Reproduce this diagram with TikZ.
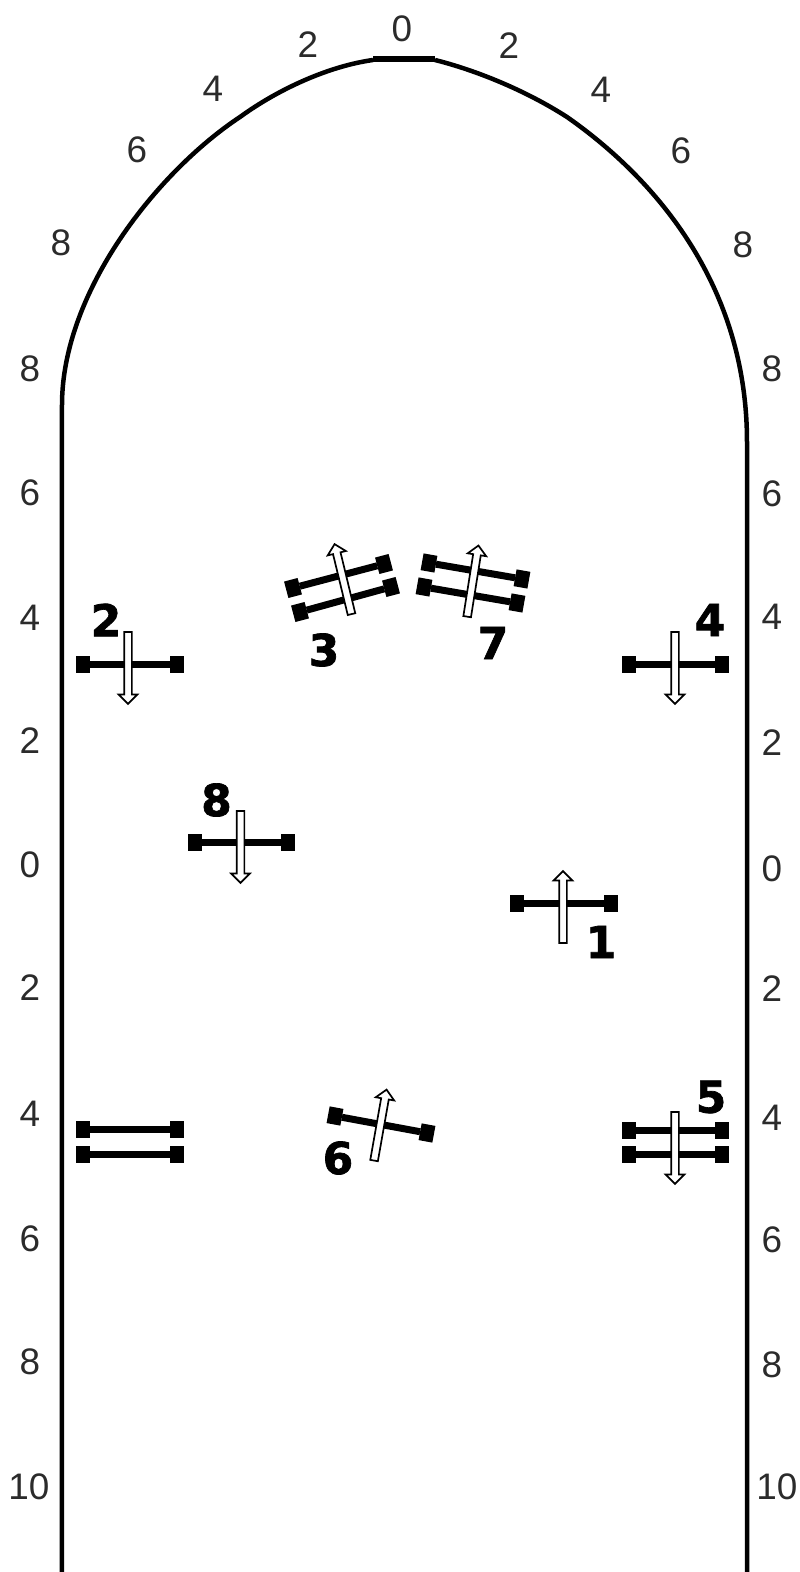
\documentclass[tikz,border=0pt]{standalone}
\usepackage{fontspec}
\setmainfont{Liberation Sans}
\newfontfamily\heavyfont[BoldFeatures={FakeBold=1.6}]{DejaVu Sans}
\usetikzlibrary{shapes.arrows}
\definecolor{ArenaInk}{HTML}{000000}
\definecolor{ScaleInk}{HTML}{2B2B2B}
\begin{document}
\begin{tikzpicture}[
  x=1cm,y=1cm,
  track/.style={draw=ArenaInk,line width=0.45mm},
  rail/.style={draw=ArenaInk,line width=0.7mm},
  post/.style={draw=none,fill=ArenaInk,minimum width=0.14cm,minimum height=0.17cm,
    inner sep=0pt,outer sep=0pt},
  route/.style={single arrow,draw=ArenaInk,fill=white,line width=0.17mm,inner sep=0.03cm,
    minimum width=0.17cm,minimum height=0.72cm,single arrow head extend=0.055cm},
  scalemark/.style={inner sep=0pt,text=ScaleInk,font=\fontsize{10.5}{12}\selectfont},
  jumpno/.style={inner sep=0pt,text=ArenaInk,font=\heavyfont\bfseries\fontsize{12.5}{15}\selectfont}
]
\useasboundingbox (0,0) rectangle (8,15.72);

% Arena wall, closed at the top by a pointed arch.
\draw[track] (0.62,0) -- (0.62,11.67)
  .. controls (0.62,12.80) and (1.57,14.00) .. (2.40,14.55)
  .. controls (2.80,14.84) and (3.30,15.06) .. (3.73,15.12);
\draw[track,line width=0.55mm] (3.73,15.13) -- (4.35,15.13);
\draw[track] (4.35,15.12)
  .. controls (4.75,15.02) and (5.25,14.82) .. (5.67,14.55)
  .. controls (6.40,14.04) and (7.47,13.00) .. (7.47,11.30) -- (7.47,0);

% Distance marks along the long sides.
\node[scalemark] (l8) at (0.30,12.03) {8};
\node[scalemark] (l6) at (0.30,10.79) {6};
\node[scalemark] (l4) at (0.30,9.54) {4};
\node[scalemark] (l2) at (0.30,8.31) {2};
\node[scalemark] (l0) at (0.30,7.07) {0};
\node[scalemark] (l2b) at (0.30,5.84) {2};
\node[scalemark] (l4b) at (0.30,4.58) {4};
\node[scalemark] (l6b) at (0.30,3.33) {6};
\node[scalemark] (l8b) at (0.30,2.10) {8};
\node[scalemark] (l10b) at (0.29,0.85) {10};
\node[scalemark] (r8) at (7.72,12.03) {8};
\node[scalemark] (r6) at (7.72,10.78) {6};
\node[scalemark] (r4) at (7.72,9.55) {4};
\node[scalemark] (r2) at (7.72,8.29) {2};
\node[scalemark] (r0) at (7.72,7.03) {0};
\node[scalemark] (r2b) at (7.72,5.83) {2};
\node[scalemark] (r4b) at (7.72,4.54) {4};
\node[scalemark] (r6b) at (7.72,3.32) {6};
\node[scalemark] (r8b) at (7.72,2.07) {8};
\node[scalemark] (r10b) at (7.77,0.85) {10};

% Distance marks around the arch.
\node[scalemark] (a0) at (4.02,15.43) {0};
\node[scalemark] (al2) at (3.08,15.27) {2};
\node[scalemark] (al4) at (2.13,14.83) {4};
\node[scalemark] (al6) at (1.37,14.22) {6};
\node[scalemark] (al8) at (0.61,13.29) {8};
\node[scalemark] (ar2) at (5.09,15.26) {2};
\node[scalemark] (ar4) at (6.01,14.82) {4};
\node[scalemark] (ar6) at (6.81,14.21) {6};
\node[scalemark] (ar8) at (7.43,13.27) {8};

% Upright fences along the sides.
\node[post] (f2a) at (0.83,9.07) {};
\node[post] (f2b) at (1.765,9.07) {};
\draw[rail] (f2a) -- (f2b);
\node[route,rotate=-90] (p2) at (1.28,9.06) {};
\node[jumpno] (n2) at (1.06,9.52) {2};

\node[post] (f4a) at (6.29,9.07) {};
\node[post] (f4b) at (7.22,9.07) {};
\draw[rail] (f4a) -- (f4b);
\node[route,rotate=-90] (p4) at (6.75,9.06) {};
\node[jumpno] (n4) at (7.10,9.52) {4};

% The two oxers at the top of the arena lean towards each other.
\node[post,rotate=14.8] (f3a) at (2.93,9.84) {};
\node[post,rotate=14.8] (f3b) at (3.84,10.08) {};
\node[post,rotate=14.8] (f3c) at (3.00,9.60) {};
\node[post,rotate=14.8] (f3d) at (3.91,9.85) {};
\draw[rail] (f3a) -- (f3b);
\draw[rail] (f3c) -- (f3d);
\node[route,rotate=103.6] (p3) at (3.435,9.91) {};
\node[jumpno] (n3) at (3.24,9.22) {3};

\node[post,rotate=-10] (f7a) at (4.29,10.09) {};
\node[post,rotate=-10] (f7b) at (5.22,9.93) {};
\node[post,rotate=-10] (f7c) at (4.24,9.85) {};
\node[post,rotate=-10] (f7d) at (5.17,9.69) {};
\draw[rail] (f7a) -- (f7b);
\draw[rail] (f7c) -- (f7d);
\node[route,rotate=81] (p7) at (4.725,9.89) {};
\node[jumpno] (n7) at (4.93,9.29) {7};

% Middle of the arena.
\node[post] (f8a) at (1.945,7.29) {};
\node[post] (f8b) at (2.88,7.29) {};
\draw[rail] (f8a) -- (f8b);
\node[route,rotate=-90] (p8) at (2.405,7.27) {};
\node[jumpno] (n8) at (2.165,7.72) {8};

\node[post] (f1a) at (5.17,6.68) {};
\node[post] (f1b) at (6.11,6.68) {};
\draw[rail] (f1a) -- (f1b);
\node[route,rotate=90] (p1) at (5.63,6.63) {};
\node[jumpno] (n1) at (6.01,6.30) {1};

% Lower line: unnumbered double, skewed 6, double 5.
\node[post] (fxa) at (0.83,4.42) {};
\node[post] (fxb) at (1.765,4.42) {};
\node[post] (fxc) at (0.83,4.17) {};
\node[post] (fxd) at (1.765,4.17) {};
\draw[rail] (fxa) -- (fxb);
\draw[rail] (fxc) -- (fxd);

\node[post,rotate=-10.5] (f6a) at (3.35,4.56) {};
\node[post,rotate=-10.5] (f6b) at (4.27,4.39) {};
\draw[rail] (f6a) -- (f6b);
\node[route,rotate=80] (p6) at (3.80,4.45) {};
\node[jumpno] (n6) at (3.38,4.14) {6};

\node[post] (f5a) at (6.29,4.41) {};
\node[post] (f5b) at (7.22,4.41) {};
\node[post] (f5c) at (6.29,4.17) {};
\node[post] (f5d) at (7.22,4.17) {};
\draw[rail] (f5a) -- (f5b);
\draw[rail] (f5c) -- (f5d);
\node[route,rotate=-90] (p5) at (6.75,4.26) {};
\node[jumpno] (n5) at (7.11,4.75) {5};

\end{tikzpicture}
\end{document}
